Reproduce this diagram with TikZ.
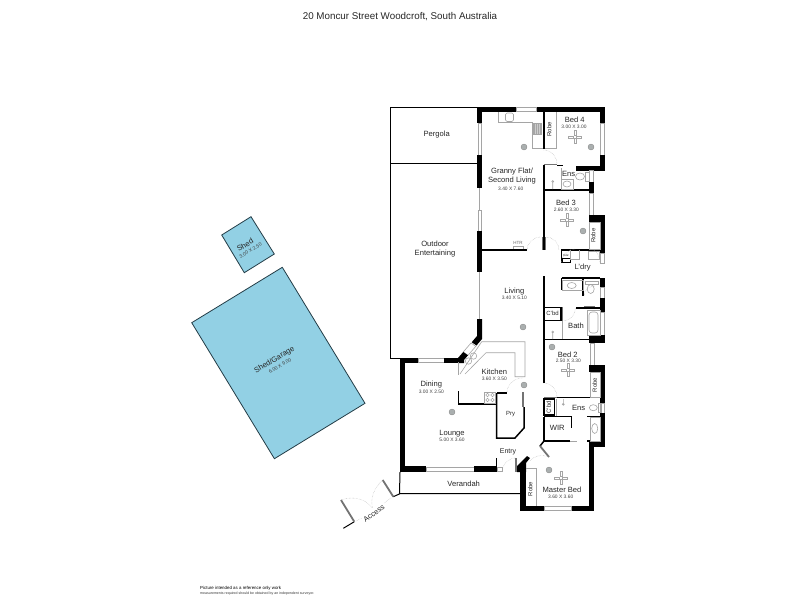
\documentclass[tikz,border=0pt]{standalone}
\usepackage{fontspec}
\setmainfont{Liberation Sans}
\definecolor{shedblue}{RGB}{146,208,228}
\definecolor{shededge}{RGB}{35,60,70}
\definecolor{fixture}{RGB}{165,165,165}
\definecolor{lamp}{RGB}{170,175,175}
\newcommand{\roomfont}{\fontsize{7.6}{9}\selectfont}
\newcommand{\sizefont}{\fontsize{4.9}{6}\selectfont}
\begin{document}
\begin{tikzpicture}[x=1pt, y=-1pt, font=\roomfont, inner sep=0pt]
\tikzstyle{wall} = [fill=black]
\tikzstyle{partition} = [draw=black, line width=1.5pt]
\tikzstyle{outline} = [draw=black, line width=1pt]
\tikzstyle{window} = [draw=fixture, fill=white, line width=0.6pt]
\tikzstyle{fixline} = [draw=fixture, line width=0.6pt]
\tikzstyle{doorbar} = [draw=black!55, line width=1.8pt]
\tikzstyle{swing} = [draw=black!35, line width=0.4pt, densely dotted]
\tikzstyle{room} = [text=black!85]
\tikzstyle{size} = [font=\sizefont, text=black!75]
\useasboundingbox (0,0) rectangle (800,600);

% Title and the note at the foot of the page
\node[font=\fontsize{9.8}{11}\selectfont, text=black!85] (Title) at (400,17) {20 Moncur Street Woodcroft, South Australia};
\node[anchor=west, font=\fontsize{4.4}{6}\selectfont] (NoteTop) at (200,588.5) {Picture intended as a reference only work};
\node[anchor=west, font=\fontsize{3.55}{5}\selectfont, text=black!80] (NoteBottom) at (200,594) {measurements required should be obtained by an independent surveyor.};

% Sheds
\draw[fill=shedblue, draw=shededge, line width=0.8pt] (221.7,235) -- (251,216.7) -- (274.3,254) -- (244.3,272.7) -- cycle;
\draw[fill=shedblue, draw=shededge, line width=0.8pt] (191.7,322.7) -- (282.3,267.3) -- (365,403.3) -- (274.4,458.7) -- cycle;
\node[rotate=31, room] (Shed) at (245,245) {Shed};
\node[rotate=31, size] (ShedSize) at (250.5,250.5) {3.00 X 2.50};
\node[rotate=31, room] (Garage) at (274.5,360) {Shed/Garage};
\node[rotate=31, size] (GarageSize) at (280,366) {6.00 X 9.00};

% Pergola, outdoor area and verandah
\draw[outline] (478,107) -- (390,107) -- (390,358) -- (400,358);
\draw[outline] (390,163) -- (478,163);
\draw[outline] (400,472) -- (399.5,493.5) -- (520,493.5);
\node[room] (Pergola) at (436.7,135) {Pergola};
\node[room] (Outdoor) at (435,244) {Outdoor};
\node[room] (Entertaining) at (435,253.7) {Entertaining};
\node[room] (Verandah) at (463.7,483.7) {Verandah};

% Access gates
\draw[outline] (343.3,528.3) -- (354.3,521.7);
\draw[outline] (393.3,496.7) -- (399.3,494) -- (400,493.5);
\draw[doorbar] (341,500) -- (354.3,521.7);
\draw[doorbar] (382.7,480) -- (393.3,496.7);
\draw[swing] (341,500) .. controls (352,496) and (365,498) .. (372.5,508);
\draw[swing] (382.7,480) .. controls (374,488) and (370,498) .. (372.5,508);
\draw[swing] (356,521) -- (362,518);
\draw[swing] (384,503) -- (391,498);
\node[rotate=35, room, font=\fontsize{7.4}{8}\selectfont] (Access) at (374,513.3) {Access};

% Outer walls, top and left side
\fill[wall] (477,107) rectangle (516,112);
\fill[wall] (536,107) rectangle (605,112);
\draw[window] (516,107.5) rectangle (536,111.5);
\fill[wall] (477,107) rectangle (482,123);
\draw[window] (478,123) rectangle (481.5,155);
\fill[wall] (477,155) rectangle (482,188);
\draw[fixline] (479.5,188) -- (479.5,210);
\draw[window] (478,210) rectangle (481.5,231);
\fill[wall] (477,231) rectangle (482,272);
\draw[fixline] (479.5,272) -- (479.5,319);
\fill[wall] (477,319) -- (482,319) -- (482,339) -- (476.5,345.5) -- (471.7,342.2) -- (477,336) -- cycle;
\draw[window] (471,343) -- (475.8,346.3) -- (468,355.3) -- (463.2,352) -- cycle;
\fill[wall] (463.2,352) -- (468,355.3) -- (464,360) -- (464,363) -- (458,363) -- (458,358) -- cycle;
\fill[wall] (400,358) rectangle (418,363);
\draw[window] (418,358.5) rectangle (444,362.5);
\fill[wall] (444,358) rectangle (460,363);
\fill[wall] (400,358) rectangle (405,472);
\fill[wall] (400,466) rectangle (426,472);
\draw[window] (426,467) rectangle (474,471.5);
\fill[wall] (474,466) rectangle (496,472);
\draw[partition] (496.5,458) -- (496.5,472);
\draw[window] (497,467) rectangle (502,471.5);

% Outer walls, right side
\fill[wall] (600,107) rectangle (605,123);
\draw[window] (600.5,123) rectangle (604.5,155);
\fill[wall] (600,155) rectangle (605,170);
\fill[wall] (576,166) rectangle (605,170.5);
\draw[window] (589.5,170.5) rectangle (593.5,182);
\fill[wall] (589,182) rectangle (594,193);
\draw[window] (589.5,193) rectangle (593.5,215);
\fill[wall] (589,215) rectangle (605,222);
\fill[wall] (600,215) rectangle (605,253);
\draw[window] (600.5,253) rectangle (604.5,263);
\fill[wall] (600,278) rectangle (605,287);
\draw[window] (600.5,287) rectangle (604.5,298);
\fill[wall] (600,298) rectangle (605,312);
\draw[window] (600.5,312) rectangle (604.5,335);
\fill[wall] (589,335) rectangle (605,343);
\draw[window] (590,343) rectangle (594,365);
\fill[wall] (589,365) rectangle (605,372);
\fill[wall] (600,365) rectangle (605,403);
\draw[window] (600.5,403) rectangle (604.5,413);
\fill[wall] (600,413) rectangle (605,447);
\fill[wall] (589,442) rectangle (605,447);
\fill[wall] (589,442) rectangle (594,511);
\fill[wall] (571,506) rectangle (594,511);
\draw[window] (544,506.5) rectangle (571,510.5);
\fill[wall] (520,506) rectangle (544,511);
\fill[wall] (520,472) rectangle (526,511);
\fill[wall] (517,466) -- (527,456) -- (530,458) -- (526,463) -- (526,472) -- (517,472) -- cycle;

% Inner walls
\draw[partition] (544,112) -- (544,149);
\draw[doorbar] (543.5,164.5) -- (557,164.5);
\draw[partition] (557,165.5) -- (563,165.5);
\draw[partition] (544,165) -- (544,250);
\draw[partition] (544,190) -- (590,190);
\draw[partition] (482,250) -- (527,250);
\draw[partition] (561,250) -- (600,250);
\draw[partition] (561.5,250) -- (561.5,263);
\draw[partition] (561.5,278) -- (600,278);
\draw[partition] (561.5,278) -- (561.5,290);
\draw[partition] (583,278) -- (583,296);
\draw[partition] (576,308) -- (600,308);
\draw[partition] (544,276) -- (544,383);
\draw[partition] (544,339.5) -- (590,339.5);
\draw[partition] (544,307.5) -- (561,307.5) -- (561,320.5) -- (544,320.5);
\draw[doorbar] (543.5,397.5) -- (557,397.5);
\draw[partition] (557,397.5) -- (600,397.5);
\draw[partition] (544,399) rectangle (554.5,415);
\draw[partition] (544,416.5) -- (571.5,416.5) -- (571.5,428);
\draw[partition] (587,416.5) -- (600,416.5);
\draw[partition] (544,416.5) -- (544,441) -- (570,441);
\draw[fixline] (570,441) -- (577,441);
\draw[partition] (587,441) -- (590,441);
\draw[partition] (544,441) -- (540,446);
\draw[doorbar] (540,446) -- (549,457);
\draw[doorbar] (542.5,237) -- (542.5,250);
\draw[doorbar] (545.5,237) -- (545.5,250);
\draw[doorbar] (562.5,307) -- (562.5,321);
\draw[doorbar] (584,306.5) -- (595,306.5);
\draw[doorbar] (516,458) -- (516,472);

% Kitchen, pantry and dining walls
\draw[fixline, line width=1pt] (458.5,362) -- (458.5,375);
\draw[partition] (458.5,391) -- (458.5,404) -- (496.5,404);
\draw[partition] (496.5,393) -- (507,393);
\draw[partition] (496.5,393) -- (496.5,438) -- (515,438) -- (524,428) -- (524,407);
\draw[doorbar] (523,392) -- (523,407);

% Door swings
\draw[swing] (543.5,150) arc (-90:0:13.5 and 14);
\draw[swing] (527,250) arc (180:270:14 and 13);
\draw[swing] (546,237) arc (270:360:13 and 13);
\draw[swing] (561.5,263) arc (180:90:14 and -14);
\draw[swing] (600,263) arc (0:90:10 and -14);
\draw[swing] (584,296) arc (180:90:11 and -10);
\draw[swing] (562.5,321) arc (90:0:13 and 13);
\draw[swing] (543.5,383) arc (-90:0:13.5 and 14);
\draw[swing] (507,393) arc (180:90:15.5 and -15);
\draw[swing] (516,458) arc (90:180:14 and -14);
\draw[swing] (549,457) arc (60:150:14 and -11);

% Benches, robes and the like
\draw[fixline] (498.3,112) -- (498.3,122.3) -- (532.7,122.3) -- (532.7,148.3) -- (543.3,148.3);
\draw[fixline, rounded corners=1.5pt] (505.5,113) rectangle (513.5,121.5);
\draw[fixline] (545,148) -- (556,148) -- (556,112);
\fill[black!20] (533,123.3) rectangle (541.7,134.3);
\draw[fixline, line width=0.3pt, xstep=2, ystep=2] (533,123.3) grid (541.7,134.3);
\draw[fixline] (533,123.3) rectangle (541.7,134.3);
\draw[fixline] (589,222) rectangle (600,249);
\draw[fixline] (590,372) rectangle (600,397);
\draw[fixline] (526,468) -- (536,468) -- (536,506);
\draw[fixline] (513,249) -- (513,246) -- (523,246) -- (523,249);
\draw[fixline] (460,374) -- (481.7,341.7) -- (525,341.7) -- (525,376.7) -- (515,376.7) -- (515,352.7) -- (486,352.7) -- (465,374);
\draw[fixline] (468.5,361) circle (3.2pt);
\draw[fixline] (473.5,356) circle (3.2pt);
\draw[fixline] (484.5,392) rectangle (495.5,403);
\foreach \cx/\cy in {487.5/395, 492.5/395, 487.5/400, 492.5/400}
  \draw[fixline] (\cx,\cy) circle (1.7pt);

% Wet areas
\draw[fixline] (561,168) -- (561,189);
\draw[fixline] (561,179.3) rectangle (573.3,189);
\draw[fixline] (567,184) ellipse (4 and 3);
\draw[fixline] (580,176.5) ellipse (4.5 and 3.5);
\draw[fixline] (585,172) rectangle (589,181);
\draw[fixline] (552.7,181.5) circle (1pt) -- (552.7,189);
\draw[partition, line width=1pt] (562,258) rectangle (570,262);
\draw[fixline] (570,250) -- (570,259) -- (579,259) -- (579,250);
\draw[fixline] (588,251) rectangle (599,259);
\draw[fixline] (562,280) rectangle (583,290);
\draw[fixline] (571.7,285.5) ellipse (4.5 and 3);
\draw[fixline] (585,281) rectangle (598,284);
\draw[fixline] (590.7,289) ellipse (3.5 and 4.5);
\draw[fixline] (587,310) rectangle (600,335);
\draw[fixline, rounded corners=3pt] (589,312) rectangle (598,333);
\draw[fixline] (562,321) -- (562,339);
\draw[fixline] (552.7,332) circle (1pt) -- (552.7,339);
\draw[fixline] (556,399) -- (556,416);
\draw[fixline] (563.3,404.3) circle (1pt) -- (563.3,399);
\draw[fixline] (593.3,407.7) ellipse (4 and 3);
\draw[fixline] (598,403) rectangle (601,412);
\draw[fixline] (590,417) rectangle (600,441);
\draw[fixline] (594.7,428.5) ellipse (3 and 5);

% Lamps
\foreach \lx/\ly in {524/147, 591/147, 583/231, 523/327, 552/347, 524/385, 452/412, 549/470}
  \fill[lamp, draw=black!50, line width=0.3pt] (\lx,\ly) circle (3pt);

% Ceiling fans
\foreach \fx/\fy in {575/137, 566.7/220, 568/370, 560.7/478} {
  \draw[fixline, line width=0.4pt] (\fx-6.5,\fy-1) rectangle (\fx-1.5,\fy+1);
  \draw[fixline, line width=0.4pt] (\fx+1.5,\fy-1) rectangle (\fx+6.5,\fy+1);
  \draw[fixline, line width=0.4pt] (\fx-1,\fy-6.5) rectangle (\fx+1,\fy-1.5);
  \draw[fixline, line width=0.4pt] (\fx-1,\fy+1.5) rectangle (\fx+1,\fy+6.5);
}

% Room names and sizes
\node[room] (Granny) at (512,171.7) {Granny Flat/};
\node[room] (Second) at (512,180.7) {Second Living};
\node[size] (GrannySize) at (510.7,188.7) {3.40 X 7.60};
\node[room] (BedFour) at (574.7,120) {Bed 4};
\node[size] (BedFourSize) at (574,127) {3.00 X 3.00};
\node[room, rotate=90, font=\fontsize{6}{7}\selectfont] (RobeFour) at (549.3,129.3) {Robe};
\node[room] (EnsTop) at (568.7,174.3) {Ens};
\node[room] (BedThree) at (566,203) {Bed 3};
\node[size] (BedThreeSize) at (566.3,209.7) {2.60 X 3.30};
\node[room, rotate=90, font=\fontsize{6}{7}\selectfont] (RobeThree) at (593.3,235.7) {Robe};
\node[font=\fontsize{4.5}{5}\selectfont, text=black!60] (Heater) at (518,243) {HTR};
\node[font=\fontsize{3}{4}\selectfont] (Washer) at (566,255.5) {C/w};
\node[room] (Laundry) at (582.7,267.7) {L'dry};
\node[room] (Living) at (514.3,292) {Living};
\node[size] (LivingSize) at (514.3,298.3) {3.40 X 5.10};
\node[room, font=\fontsize{6}{7}\selectfont] (CupboardBath) at (552.5,313.5) {C'bd};
\node[room] (Bath) at (576,325.7) {Bath};
\node[room] (BedTwo) at (567.7,354.3) {Bed 2};
\node[size] (BedTwoSize) at (568.3,360.7) {2.50 X 3.30};
\node[room, rotate=90, font=\fontsize{6}{7}\selectfont] (RobeTwo) at (594.7,385) {Robe};
\node[room] (Kitchen) at (494.3,371.7) {Kitchen};
\node[size] (KitchenSize) at (494.3,378.7) {3.60 X 3.50};
\node[room] (Dining) at (431.3,385) {Dining};
\node[size] (DiningSize) at (431.3,391.7) {3.00 X 2.50};
\node[room, font=\fontsize{6}{7}\selectfont] (Pantry) at (510.7,414.3) {Pry};
\node[room] (Lounge) at (452,433.7) {Lounge};
\node[size] (LoungeSize) at (452,440.3) {5.00 X 3.60};
\node[room, font=\fontsize{7}{8}\selectfont] (Entry) at (508,452.3) {Entry};
\node[room, rotate=90, font=\fontsize{6}{7}\selectfont] (RobeMaster) at (530.3,489) {Robe};
\node[room] (Master) at (562,489.3) {Master Bed};
\node[size] (MasterSize) at (560.7,496.7) {3.60 X 3.60};
\node[room] (EnsBottom) at (578.7,408.3) {Ens};
\node[room] (Wir) at (557.3,428.3) {WIR};
\node[room, rotate=90, font=\fontsize{6}{7}\selectfont] (CupboardEns) at (548.7,407.3) {C'bd};

\end{tikzpicture}
\end{document}
